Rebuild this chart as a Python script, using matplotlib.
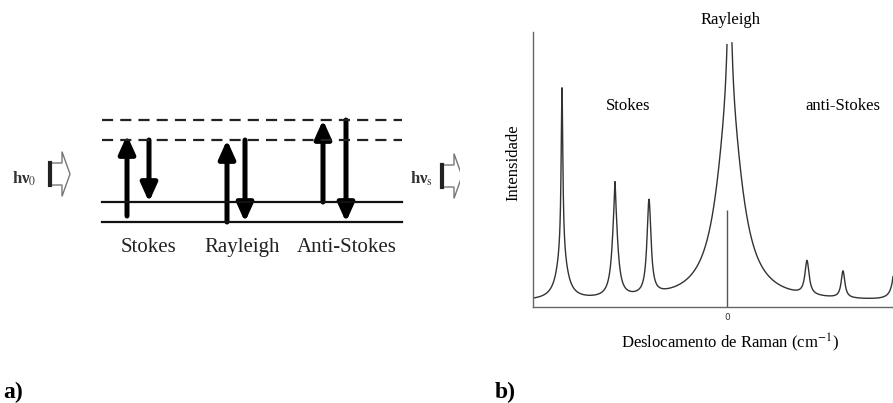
#Recreating the Raman scattering figure: a) energy level diagram, b) Raman spectrum.

import matplotlib
matplotlib.use('Agg')
import matplotlib.pyplot as plt
from matplotlib.patches import FancyArrowPatch, Polygon
import numpy as np

plt.rcParams['font.family'] = ['Liberation Serif', 'DejaVu Serif']
plt.rcParams['mathtext.fontset'] = 'stix'

#Panel a) data: energy levels (0 = ground, 1 = first vibrational, virtual levels above)
level_names = ['v0', 'v1', 'virtual1', 'virtual2']
level_energy = [0, 1, 4.1, 5.1]
level_style = ['-', '-', '--', '--']
level_x = [102, 402]

#transitions: x position, start energy, end energy
transition_x = [127, 149, 227, 245, 323, 346]
transition_from = [0.3, 4.1, 0.0, 4.1, 1.0, 5.1]
transition_to = [4.35, 1.0, 4.1, 0.0, 5.1, 0.0]

scatter_labels = ['Stokes', 'Rayleigh', 'Anti-Stokes']
scatter_label_x = [148, 242, 347]

#Panel b) data: peaks of the spectrum (shift relative to the laser line, intensity, half width)
peak_shift = [-165, -165, -112, -112, -78, 2.5, 2.5, 80, 116, 170]
peak_height = [0.60, 0.17, 0.34, 0.08, 0.344, 0.70, 0.55, 0.123, 0.098, 0.30]
peak_width = [1.0, 6.0, 3.2, 0.6, 2.4, 15.0, 2.3, 2.5, 2.2, 2.5]
background = 0.02
clip_level = 0.964
laser_marker_top = 0.353

fig = plt.figure(figsize=(8.93, 4.03), dpi=100)

# ---------------- a) ----------------
axa = fig.add_axes([0, 0.33, 460 / 893, 170 / 403])
axa.set_xlim(0, 460)
axa.set_ylim(-2.4, 6.1)
axa.axis('off')

for e, ls in zip(level_energy, level_style):
    if ls == '--':
        axa.plot(level_x, [e, e], color='#222222', lw=1.6, ls=(0, (5, 3.2)))
    else:
        axa.plot(level_x, [e, e], color='#111111', lw=1.6)

for x, y0, y1 in zip(transition_x, transition_from, transition_to):
    arr = FancyArrowPatch((x, y0), (x, y1), arrowstyle='-|>,head_length=1.0,head_width=0.45',
                          mutation_scale=11, lw=3.6, color='black', shrinkA=0, shrinkB=0)
    axa.add_patch(arr)

for lab, x in zip(scatter_labels, scatter_label_x):
    axa.text(x, -1.25, lab, ha='center', va='center', fontsize=15, color='#222222')


def block_arrow(ax, xbar, yc):
    # hollow arrow with thick left bar, energy units are 20 px each
    pts = [(xbar, yc + 0.55), (xbar + 12, yc + 0.55), (xbar + 12, yc + 1.12), (xbar + 20, yc),
           (xbar + 12, yc - 1.12), (xbar + 12, yc - 0.55), (xbar, yc - 0.55)]
    ax.add_patch(Polygon(pts, closed=False, fill=False, edgecolor='#777777', lw=1.0))
    ax.plot([xbar, xbar], [yc - 0.55, yc + 0.55], color='#222222', lw=3)


axa.text(24, 2.15, r'hν$_\mathrm{0}$', ha='center', va='center', fontsize=12, fontweight='bold', color='#333333')
block_arrow(axa, 50, 2.4)
axa.text(422, 2.15, r'hν$_\mathrm{s}$', ha='center', va='center', fontsize=12, fontweight='bold', color='#333333')
block_arrow(axa, 442, 2.3)

fig.text(3 / 893, 1 - 398 / 403, 'a)', fontsize=17, fontweight='bold', ha='left', va='baseline')
fig.text(495 / 893, 1 - 398 / 403, 'b)', fontsize=17, fontweight='bold', ha='left', va='baseline')

# ---------------- b) ----------------
axb = fig.add_axes([533 / 893, 1 - 307 / 403, 360 / 893, 275 / 403])
shift = np.linspace(-194, 166, 4000)
intensity = np.full_like(shift, background)
for c, a, g in zip(peak_shift, peak_height, peak_width):
    intensity += a * g ** 2 / ((shift - c) ** 2 + g ** 2)
intensity = np.where(intensity > clip_level, np.nan, intensity)

axb.plot(shift, intensity, color='#333333', lw=1.0)
axb.vlines(0, 0, laser_marker_top, color='#555555', lw=1.0)
axb.set_xlim(-194, 166)
axb.set_ylim(0, 1)
for s in ['top', 'right']:
    axb.spines[s].set_visible(False)
for s in ['left', 'bottom']:
    axb.spines[s].set_color('#666666')
    axb.spines[s].set_linewidth(1.0)
axb.set_xticks([0])
axb.set_xticklabels(['0'], fontsize=6.5, family='DejaVu Sans', color='#333333')
axb.set_yticks([])
axb.tick_params(axis='x', length=0, pad=4)

axb.set_xlabel('Deslocamento de Raman (cm$^{-1}$)', fontsize=12)
axb.xaxis.set_label_coords((730 - 533) / 360, (307 - 343) / 275)
axb.xaxis.label.set_va('center')
axb.set_ylabel('Intensidade', fontsize=12)
axb.yaxis.set_label_coords(-20 / 360, (307 - 163) / 275)
axb.yaxis.label.set_va('center')

axb.text((731 - 533) / 360, (307 - 20) / 275, 'Rayleigh', transform=axb.transAxes,
         ha='center', va='center', fontsize=12)
axb.text((628 - 533) / 360, (307 - 106) / 275, 'Stokes', transform=axb.transAxes,
         ha='center', va='center', fontsize=12)
axb.text((843 - 533) / 360, (307 - 106) / 275, 'anti-Stokes', transform=axb.transAxes,
         ha='center', va='center', fontsize=12)

fig.savefig('out.png', dpi=100)
